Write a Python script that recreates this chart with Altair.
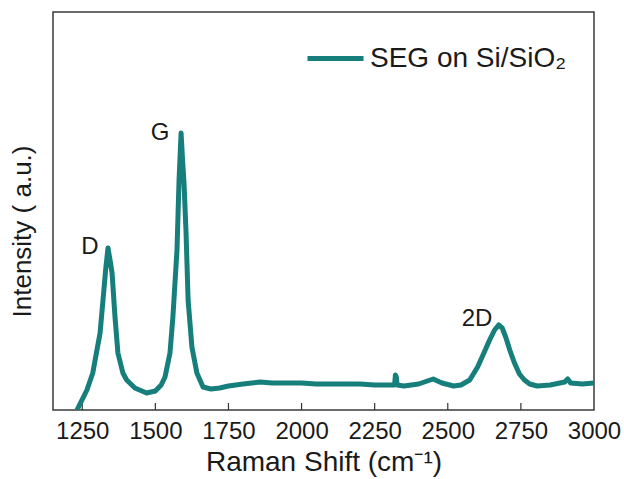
import altair as alt
import pandas as pd

# Raman spectrum (Raman shift in cm^-1, intensity in a.u.)
shift = [1232, 1266, 1286, 1294, 1311, 1321, 1330, 1338, 1345, 1352, 1362, 1372, 1389,
         1402, 1430, 1470, 1500, 1520, 1533, 1550, 1560, 1574, 1581, 1588, 1593, 1598,
         1605, 1612, 1625, 1642, 1663, 1690, 1720, 1750, 1800, 1858, 1900, 1950, 2000,
         2050, 2100, 2150, 2200, 2250, 2300, 2318, 2321, 2324, 2327, 2350, 2400, 2430,
         2450, 2480, 2520, 2545, 2575, 2602, 2625, 2643, 2660, 2674, 2686, 2698, 2712,
         2728, 2745, 2762, 2780, 2806, 2850, 2900, 2910, 2920, 2960, 3000]
intensity = [0, 20, 37, 50, 77, 110, 140, 162, 150, 137, 93, 57, 37,
             30, 22, 17, 19, 25, 33, 57, 93, 160, 230, 277, 250, 227,
             177, 110, 63, 37, 23, 21, 22, 24, 26, 28, 27, 27, 27,
             26, 26, 26, 26, 25, 25, 25, 35, 33, 25, 24, 26, 29,
             31, 27, 24, 25, 30, 43, 58, 70, 80, 85, 82, 73, 60,
             47, 36, 30, 26, 24, 25, 28, 31, 27, 26, 27]
series_name = "SEG on Si/SiO\u2082"

peak_labels = ["D", "G", "2D"]
peak_x = [1276, 1516, 2600]
peak_y = [163, 277, 91]

tick_values = [1250, 1500, 1750, 2000, 2250, 2500, 2750, 3000]

FONT = "Liberation Sans"
TEAL = "#177f7b"

df = pd.DataFrame({"shift": shift, "intensity": intensity, "series": series_name})
labels_df = pd.DataFrame({"label": peak_labels, "x": peak_x, "y": peak_y})
ticks_df = pd.DataFrame({"t": tick_values[:-1]})

xscale = alt.Scale(domain=[1150, 3000], nice=False, zero=False)
yscale = alt.Scale(domain=[0, 398], nice=False, zero=False)

inner_ticks = alt.Chart(ticks_df).mark_rule(color="#333333", strokeWidth=1.2).encode(
    x=alt.X("t:Q", scale=xscale),
    y=alt.value(398),
    y2=alt.value(391),
)

line = alt.Chart(df).mark_line(strokeWidth=5, clip=True, strokeJoin="round").encode(
    x=alt.X("shift:Q", scale=xscale,
            axis=alt.Axis(values=tick_values, format="d", title="Raman Shift (cm\u207b\u00b9)",
                          domain=False, ticks=False, grid=False,
                          labelFontSize=24, labelColor="#1a1a1a", labelPadding=9,
                          labelFlush=False, labelOverlap=False,
                          titleFontSize=28, titleFontWeight="normal", titleColor="#1a1a1a",
                          titlePadding=5)),
    y=alt.Y("intensity:Q", scale=yscale,
            axis=alt.Axis(title="Intensity ( a.u.)", labels=False, ticks=False, domain=False,
                          grid=False, titleFontSize=26, titleFontWeight="normal",
                          titleColor="#1a1a1a", titlePadding=18, titleY=219)),
    color=alt.Color("series:N", scale=alt.Scale(range=[TEAL]),
                    legend=alt.Legend(title=None, orient="none", legendX=252, legendY=16,
                                      symbolType="stroke", symbolSize=3136,
                                      symbolStrokeColor=TEAL,
                                      symbolStrokeWidth=5, labelFontSize=28, labelLimit=0,
                                      labelColor="#1a1a1a", labelOffset=4, padding=0)),
)

texts = alt.Chart(labels_df).mark_text(fontSize=24, font=FONT, color="#1a1a1a").encode(
    x=alt.X("x:Q", scale=xscale),
    y=alt.Y("y:Q", scale=yscale),
    text="label:N",
)

chart = alt.layer(inner_ticks, line, texts).properties(
    width=541, height=398,
    autosize=alt.AutoSizeParams(type="none"),
    padding={"left": 53, "top": 12, "right": 30, "bottom": 69},
).configure(font=FONT).configure_view(stroke="#3a3a3a", strokeWidth=1.5)

chart.save("out.html", embed_options={"renderer": "svg", "actions": False})
